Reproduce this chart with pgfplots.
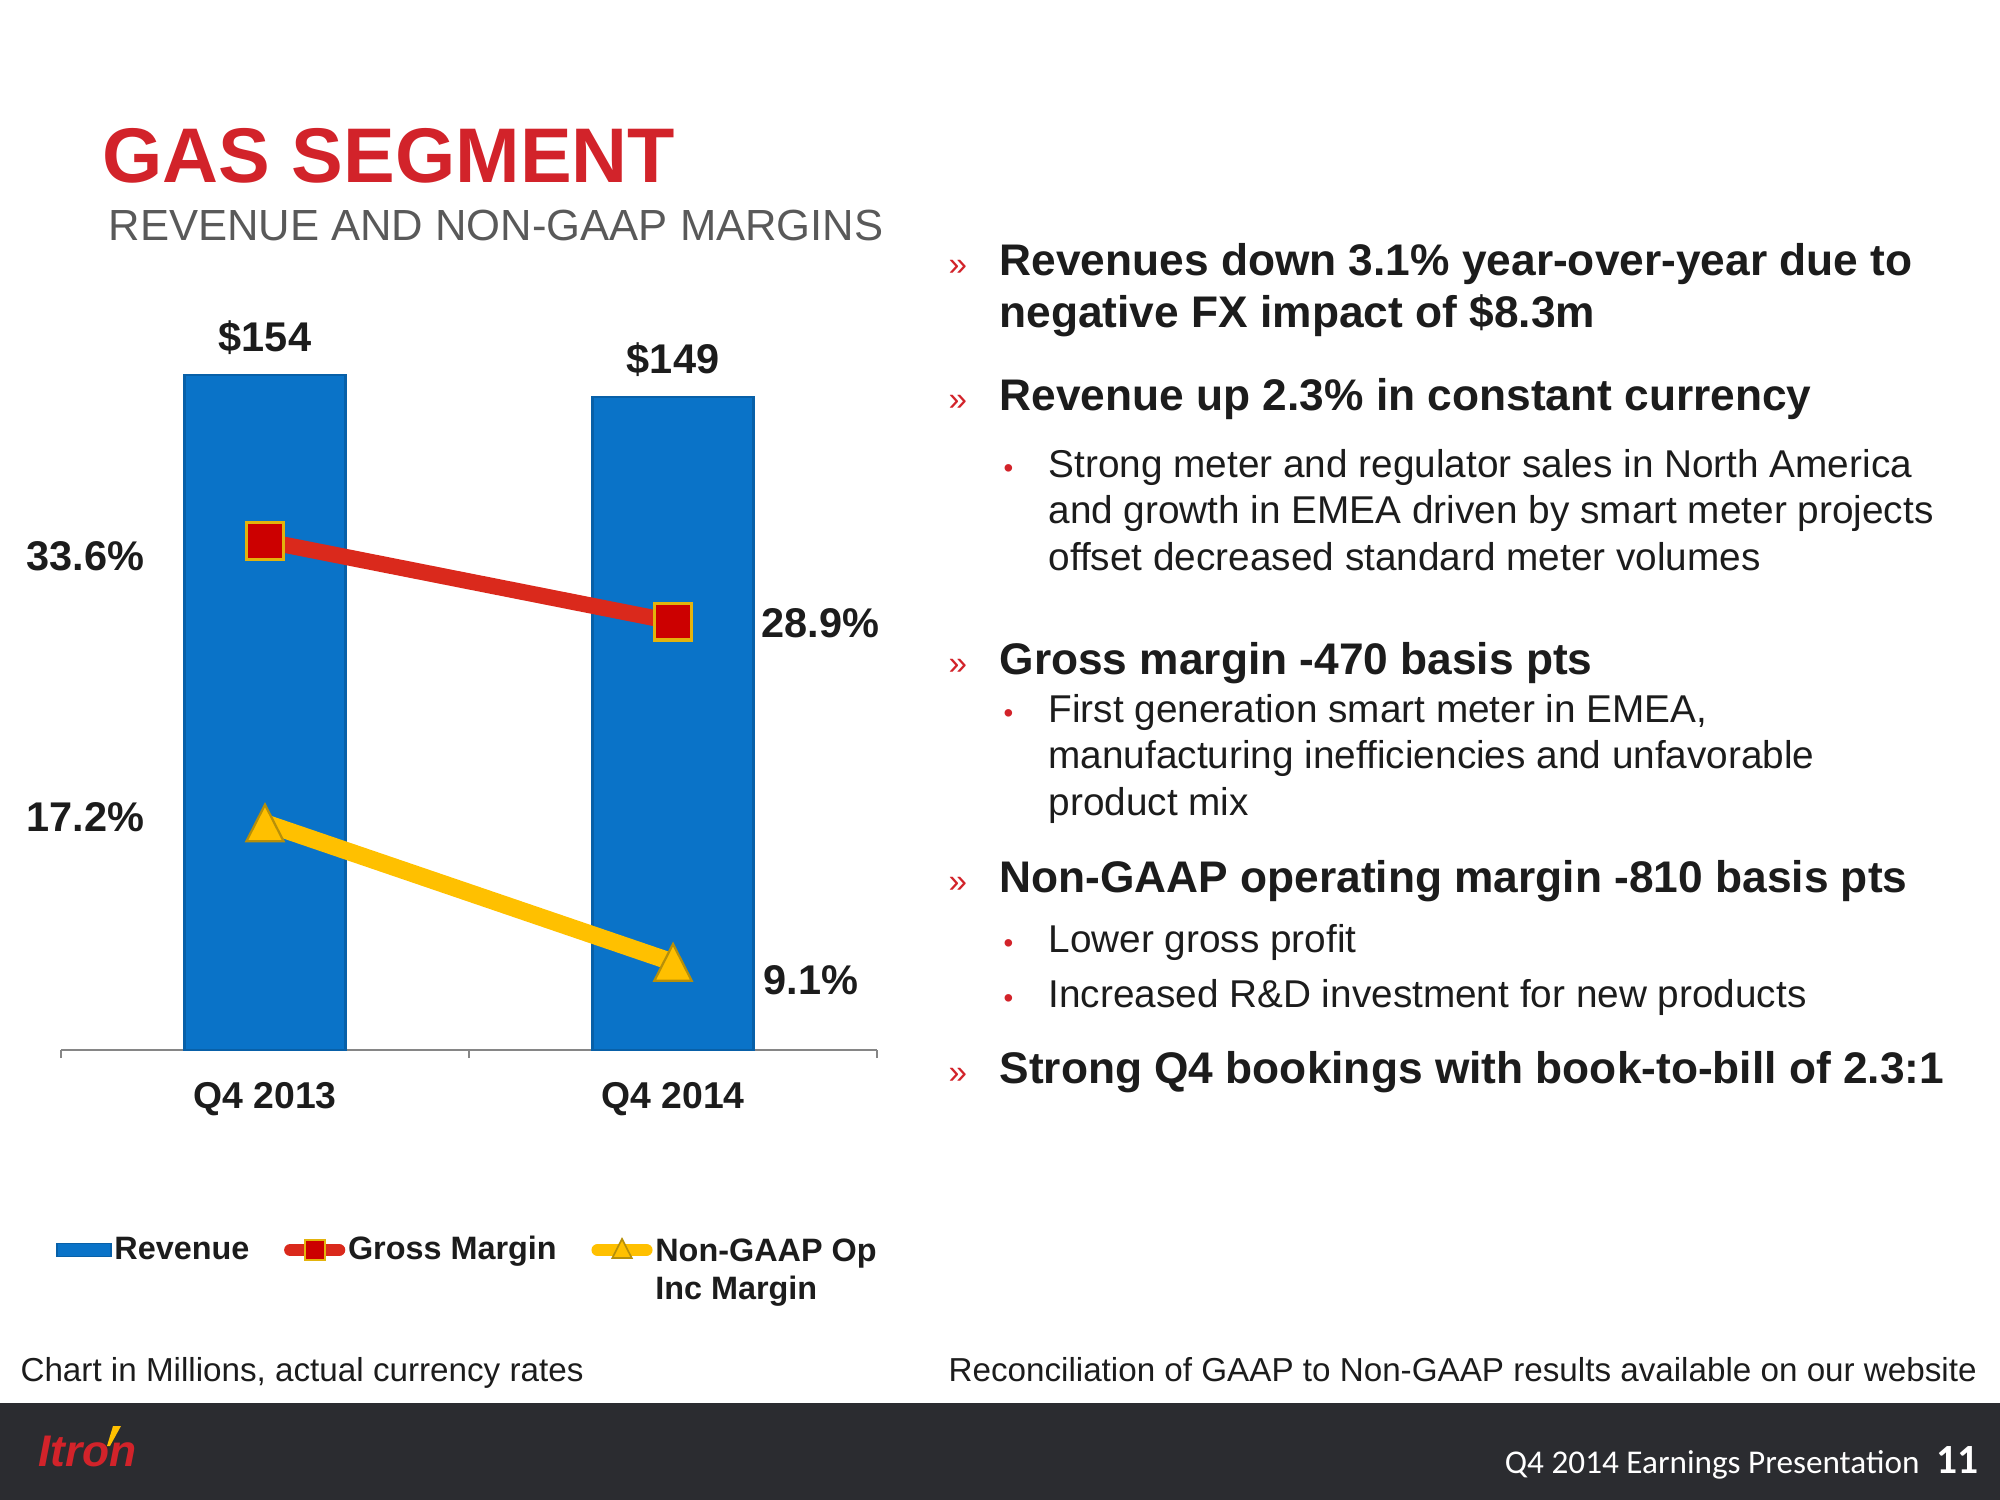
\documentclass[border=0pt]{standalone}
\usepackage{pgfplots}
\pgfplotsset{compat=1.18}
\usepackage{fontspec}
\setmainfont{Liberation Sans}
\newfontfamily\carlito{Carlito}
\definecolor{itronred}{HTML}{D2232A}
\definecolor{subgray}{HTML}{595959}
\definecolor{txt}{HTML}{1C1C1C}
\definecolor{barblue}{HTML}{0A73C8}
\definecolor{bardark}{HTML}{0860A8}
\definecolor{linered}{HTML}{DA291C}
\definecolor{markred}{HTML}{CC0000}
\definecolor{gold}{HTML}{E3B30C}
\definecolor{lineyellow}{HTML}{FFC000}
\definecolor{axisgray}{HTML}{868686}
\definecolor{footer}{HTML}{2B2C30}
\newcommand\fsz[2]{\fontsize{#1}{#2}\selectfont}
\begin{document}
\begin{tikzpicture}
\begin{scope}[x=0.36bp,y=-0.36bp]
\path[use as bounding box] (0,0) rectangle (2000,1500);
\fill[footer] (0,1403) rectangle (2000,1500);
% title
\node[anchor=base west, inner sep=0, font=\fsz{28}{32}\bfseries, text=itronred] at (102,182) {GAS SEGMENT};
\node[anchor=base west, inner sep=0, font=\fsz{15.75}{18}, text=subgray] at (108,240) {REVENUE AND NON-GAAP MARGINS};
% right column
\begin{scope}[every node/.style={anchor=base west, inner sep=0}]
\foreach \y in {275,410,674,892,1083} {\node[font=\fsz{12}{14}, text=itronred] at (948,\y) {»};}
\foreach \y in {477,722,952,1007} {\node[font=\fsz{10}{12}, text=itronred] at (1003,\y) {•};}
\node[font=\fsz{16}{19}\bfseries, text=txt] at (999,275) {Revenues down 3.1\% year-over-year due to};
\node[font=\fsz{16}{19}\bfseries, text=txt] at (999,327) {negative FX impact of \$8.3m};
\node[font=\fsz{16}{19}\bfseries, text=txt] at (999,410) {Revenue up 2.3\% in constant currency};
\node[font=\fsz{14}{17}, text=txt] at (1048,477) {Strong meter and regulator sales in North America};
\node[font=\fsz{14}{17}, text=txt] at (1048,523) {and growth in EMEA driven by smart meter projects};
\node[font=\fsz{14}{17}, text=txt] at (1048,570) {offset decreased standard meter volumes};
\node[font=\fsz{16}{19}\bfseries, text=txt] at (999,674) {Gross margin -470 basis pts};
\node[font=\fsz{14}{17}, text=txt] at (1048,722) {First generation smart meter in EMEA,};
\node[font=\fsz{14}{17}, text=txt] at (1048,768) {manufacturing inefficiencies and unfavorable};
\node[font=\fsz{14}{17}, text=txt] at (1048,815) {product mix};
\node[font=\fsz{16}{19}\bfseries, text=txt] at (999,892) {Non-GAAP operating margin -810 basis pts};
\node[font=\fsz{14}{17}, text=txt] at (1048,952) {Lower gross profit};
\node[font=\fsz{14}{17}, text=txt] at (1048,1007) {Increased R\&D investment for new products};
\node[font=\fsz{16}{19}\bfseries, text=txt] at (999,1083) {Strong Q4 bookings with book-to-bill of 2.3:1};
% footnotes
\node[font=\fsz{12}{14}, text=txt] at (20,1381) {Chart in Millions, actual currency rates};
\node[font=\fsz{12}{14}, text=txt] at (948,1381) {Reconciliation of GAAP to Non-GAAP results available on our website};
% footer
\node[font=\fsz{16}{18}\bfseries\itshape, text=itronred] at (38,1466) {Itron};
\node[font=\carlito\fsz{12}{14}, text=white, anchor=base east] at (1920,1473) {Q4 2014 Earnings Presentation};
\node[font=\carlito\fsz{15}{17}\bfseries, text=white] at (1936,1473) {11};
\end{scope}
\fill[lineyellow] (113,1426) -- (121,1426) -- (110,1446) -- (107,1446) -- cycle;
\end{scope}
% primary axis: revenue bars
\begin{axis}[
  at={(21.96bp,-378bp)}, anchor=south west,
  scale only axis, width=293.76bp, height=252bp,
  xmin=-0.5, xmax=1.5, ymin=0, ymax=159.7,
  axis x line*=bottom, axis y line=none,
  axis line style={draw=axisgray, line width=0.7bp},
  xtick={0,1}, xticklabels={Q4 2013,Q4 2014},
  major tick length=0pt,
  minor xtick={-0.5,0.5,1.5}, minor tick length=2.9bp, tick align=outside,
  minor tick style={draw=axisgray, line width=0.7bp},
  xticklabel style={font=\fsz{13.5}{16}\bfseries, text=txt, anchor=base, yshift=-20.9bp},
  ytick=\empty,
  clip=false,
  /pgf/number format/assume math mode=true,
]
\addplot[ybar, bar width=58bp, fill=barblue, draw=bardark, line width=0.8bp,
  nodes near coords={\$\pgfmathprintnumber{\pgfplotspointmeta}},
  nodes near coords style={font=\fsz{15}{18}\bfseries, text=txt, anchor=base, inner sep=0pt, yshift=8.3bp}]
  coordinates {(0,154) (1,149)};
\end{axis}
% secondary axis: margins
\begin{axis}[
  at={(21.96bp,-378bp)}, anchor=south west,
  scale only axis, width=293.76bp, height=252bp,
  xmin=-0.5, xmax=1.5, ymin=4.0, ymax=44.7,
  hide axis, clip=false,
  legend style={at={(rel axis cs:-0.007,-0.259)}, anchor=north west, draw=none, fill=none,
    inner sep=0pt, font=\fsz{11.7}{13.7}\bfseries, text=txt,
    /tikz/every even column/.append style={column sep=11.5bp},
    nodes={inner sep=1bp}},
  legend columns=3, legend cell align=left,
]
\addlegendimage{legend image code/.code={\draw[fill=barblue, draw=bardark, line width=0.6bp] (0bp,-2.3bp) rectangle (19.5bp,2.3bp);}}
\addlegendentry{Revenue}
\addplot[linered, line width=5.8bp, line cap=round, mark=square*, mark size=6.6bp,
  mark options={solid, fill=markred, draw=gold, line width=1.2bp},
  legend image code/.code={\draw[linered, line width=4.5bp, line cap=round] (2.25bp,0bp) -- (19.75bp,0bp);
    \path plot[mark=square*, mark size=3.6bp, mark options={fill=markred, draw=gold, line width=0.8bp}] coordinates {(11bp,0bp)};}]
  coordinates {(0,33.6) (1,28.9)};
\addlegendentry{Gross Margin}
\addplot[lineyellow, line width=6.3bp, line cap=round, mark=triangle*, mark size=8.8bp,
  mark options={solid, fill=lineyellow, draw=gold!80!black, line width=0.8bp, xscale=0.88, yshift=-2.2bp},
  legend image code/.code={\draw[lineyellow, line width=4.5bp, line cap=round] (2.25bp,0bp) -- (19.75bp,0bp);
    \path plot[mark=triangle*, mark size=4.6bp, mark options={fill=lineyellow, draw=gold!80!black, line width=0.6bp, xscale=0.88, yshift=-0.6bp}] coordinates {(11bp,0bp)};}]
  coordinates {(0,17.2) (1,9.1)};
\addlegendentry{\begin{tabular}[t]{@{}l@{}}Non-GAAP Op\\Inc Margin\end{tabular}}
\node[anchor=east, inner sep=0, font=\fsz{15}{18}\bfseries, text=txt, yshift=-5.4bp] at (axis cs:-0.294,33.6) {33.6\%};
\node[anchor=east, inner sep=0, font=\fsz{15}{18}\bfseries, text=txt, yshift=2.2bp] at (axis cs:-0.294,17.2) {17.2\%};
\node[anchor=west, inner sep=0, font=\fsz{15}{18}\bfseries, text=txt, yshift=-0.7bp] at (axis cs:1.216,28.9) {28.9\%};
\node[anchor=west, inner sep=0, font=\fsz{15}{18}\bfseries, text=txt, yshift=-6.5bp] at (axis cs:1.221,9.1) {9.1\%};
\end{axis}
\end{tikzpicture}
\end{document}
